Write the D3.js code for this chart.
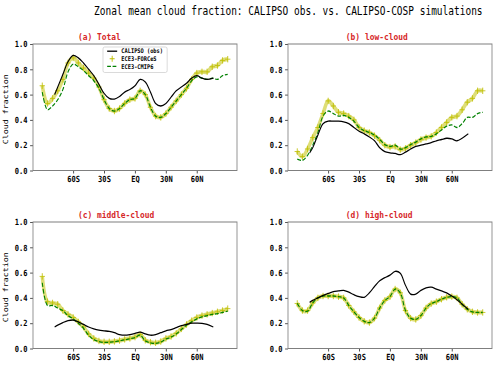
<!DOCTYPE html>
<html>
<head>
<meta charset="utf-8">
<script src="https://cdn.jsdelivr.net/npm/d3@7"></script>
<style>
  body { margin: 0; background: #fff; }
  text { font-family: "DejaVu Sans Mono", monospace; }
</style>
</head>
<body>
<svg id="fig" width="500" height="368" viewBox="0 0 600 368" preserveAspectRatio="none"></svg>
<script>
// latitude grids
const lats = [-90,-85,-80,-75,-70,-65,-60,-55,-50,-45,-40,-35,-30,-25,-20,-15,-10,-5,0,
              5,10,15,20,25,30,35,40,45,50,55,60,65,70,75,80,85,90];
const obsLats = [-78,-75,-70,-65,-60,-55,-50,-45,-40,-35,-30,-25,-20,-15,-10,-5,0,
                 5,10,15,20,25,30,35,40,45,50,55,60,65,70,76];

const tickLats = [-60, -30, 0, 30, 60];
const tickLabels = ['60S', '30S', 'EQ', '30N', '60N'];
const yTicks = [0, 0.2, 0.4, 0.6, 0.8, 1.0];
const seriesNames = ['CALIPSO (obs)', 'ECE3-FORCeS', 'ECE3-CMIP6'];

// (a) total
const totObs = [0.60,0.66,0.76,0.86,0.91,0.89,0.85,0.80,0.75,0.68,0.61,0.57,0.565,0.585,0.62,0.64,0.67,
                0.72,0.70,0.62,0.53,0.51,0.53,0.58,0.63,0.66,0.69,0.73,0.75,0.73,0.72,0.73];
const totForces = [0.67,0.53,0.57,0.63,0.72,0.85,0.89,0.85,0.81,0.77,0.73,0.66,0.56,0.49,0.47,0.49,0.53,0.56,0.57,
                   0.63,0.60,0.50,0.43,0.42,0.45,0.50,0.55,0.60,0.65,0.72,0.77,0.78,0.78,0.82,0.83,0.87,0.88];
const totCmip6 = [0.62,0.48,0.51,0.56,0.64,0.78,0.84,0.82,0.79,0.75,0.71,0.65,0.56,0.49,0.47,0.49,0.53,0.56,0.57,
                  0.63,0.60,0.50,0.43,0.42,0.45,0.50,0.55,0.60,0.65,0.71,0.74,0.73,0.72,0.73,0.72,0.75,0.76];

// (b) low-cloud
const lowObs = [0.14,0.18,0.28,0.37,0.39,0.39,0.39,0.385,0.37,0.34,0.31,0.29,0.265,0.235,0.18,0.15,0.14,
                0.135,0.125,0.145,0.17,0.19,0.20,0.21,0.22,0.235,0.245,0.255,0.25,0.235,0.255,0.29];
const lowForces = [0.15,0.11,0.17,0.26,0.34,0.45,0.55,0.51,0.46,0.45,0.43,0.40,0.34,0.315,0.30,0.275,0.24,0.20,0.185,
                   0.19,0.165,0.175,0.20,0.22,0.245,0.26,0.27,0.30,0.34,0.38,0.42,0.43,0.48,0.54,0.57,0.63,0.63];
const lowCmip6 = [0.09,0.08,0.12,0.20,0.30,0.43,0.47,0.45,0.43,0.435,0.42,0.39,0.34,0.315,0.30,0.28,0.245,0.205,0.19,
                  0.20,0.17,0.18,0.205,0.225,0.25,0.265,0.27,0.29,0.32,0.35,0.36,0.34,0.37,0.42,0.42,0.45,0.46];

// (c) middle-cloud
const midObs = [0.17,0.185,0.205,0.22,0.225,0.21,0.19,0.17,0.155,0.145,0.14,0.135,0.125,0.11,0.105,0.11,0.12,
                0.13,0.115,0.105,0.11,0.125,0.14,0.15,0.165,0.18,0.19,0.20,0.20,0.198,0.19,0.17];
const midForces = [0.57,0.37,0.36,0.35,0.30,0.27,0.245,0.21,0.17,0.115,0.08,0.06,0.053,0.053,0.056,0.063,0.072,0.08,0.09,
                   0.11,0.065,0.05,0.045,0.055,0.08,0.095,0.12,0.155,0.19,0.22,0.245,0.26,0.27,0.28,0.29,0.30,0.315];
const midCmip6 = [0.52,0.34,0.34,0.32,0.30,0.26,0.235,0.20,0.16,0.105,0.07,0.055,0.048,0.05,0.053,0.06,0.068,0.077,0.087,
                  0.105,0.06,0.045,0.04,0.05,0.075,0.09,0.115,0.15,0.185,0.21,0.235,0.25,0.26,0.27,0.275,0.285,0.295];

// (d) high-cloud
const highObs = [0.365,0.38,0.40,0.42,0.435,0.45,0.455,0.46,0.445,0.425,0.41,0.405,0.44,0.49,0.535,0.56,0.58,
                 0.61,0.595,0.50,0.43,0.43,0.46,0.48,0.485,0.47,0.455,0.44,0.415,0.385,0.35,0.31];
const highForces = [0.356,0.30,0.30,0.36,0.40,0.415,0.415,0.415,0.41,0.40,0.34,0.29,0.245,0.215,0.205,0.24,0.32,0.38,0.41,
                    0.47,0.44,0.30,0.24,0.23,0.26,0.32,0.355,0.37,0.39,0.405,0.41,0.40,0.35,0.31,0.29,0.285,0.285];
const highCmip6 = [0.356,0.30,0.295,0.36,0.40,0.415,0.415,0.415,0.41,0.40,0.34,0.29,0.245,0.215,0.205,0.24,0.32,0.38,0.41,
                   0.47,0.44,0.30,0.24,0.23,0.26,0.32,0.355,0.37,0.39,0.405,0.41,0.40,0.35,0.31,0.29,0.285,0.285];

const panels = [
  {title: '(a) Total',        obs: totObs,  forces: totForces,  cmip: totCmip6,  left: 39.6,  top: 44,  ylabel: true,  legend: true,  titleX: 93.6},
  {title: '(b) low-cloud',    obs: lowObs,  forces: lowForces,  cmip: lowCmip6,  left: 345.6, top: 44,  ylabel: false, legend: false, titleX: 415},
  {title: '(c) middle-cloud', obs: midObs,  forces: midForces,  cmip: midCmip6,  left: 39.6,  top: 222, ylabel: true,  legend: false, titleX: 93.6},
  {title: '(d) high-cloud',   obs: highObs, forces: highForces, cmip: highCmip6, left: 345.6, top: 222, ylabel: false, legend: false, titleX: 415}
];

const pw = 244.8, ph = 126.5;
const yellow = '#bfbf00', yellowLight = '#d8d860';
const svg = d3.select('#fig');

svg.append('text')
    .attr('x', 112.8).attr('y', 15)
    .style('font-size', '11.4px')
    .text('Zonal mean cloud fraction: CALIPSO obs. vs. CALIPSO-COSP simulations');

panels.forEach(function(p) {
    let x = d3.scaleLinear().domain([-99, 99]).range([p.left, p.left + pw]);
    let y = d3.scaleLinear().domain([0, 1]).range([p.top + ph, p.top]);
    let g = svg.append('g');

    let line = d3.line()
                 .x(d => x(d[0]))
                 .y(d => y(d[1]))
                 .curve(d3.curveCatmullRom.alpha(0.5));

    let obsPts = obsLats.map((l, i) => [l, p.obs[i]]);
    let forPts = lats.map((l, i) => [l, p.forces[i]]);
    let cmpPts = lats.map((l, i) => [l, p.cmip[i]]);

    // ECE3-FORCeS: yellow plus markers over a soft band
    g.append('path').datum(forPts)
        .attr('d', line).attr('fill', 'none')
        .attr('stroke', yellowLight).attr('stroke-width', 4.2)
        .attr('stroke-opacity', 0.85);
    g.selectAll('.plus').data(forPts).enter()
        .append('path')
        .attr('d', d => `M${x(d[0]) - 3.2},${y(d[1])}h6.4M${x(d[0])},${y(d[1]) - 3.2}v6.4`)
        .attr('stroke', yellow).attr('stroke-width', 1).attr('stroke-opacity', 0.9);

    g.append('path').datum(cmpPts)
        .attr('d', line).attr('fill', 'none')
        .attr('stroke', '#008000').attr('stroke-width', 1.3)
        .attr('stroke-dasharray', '4.5,2');

    g.append('path').datum(obsPts)
        .attr('d', line).attr('fill', 'none')
        .attr('stroke', '#000').attr('stroke-width', 1.3);

    // axes
    let xAxis = d3.axisBottom(x).tickValues(tickLats)
                  .tickFormat((d, i) => tickLabels[i]).tickSize(3).tickPadding(2);
    let yAxis = d3.axisLeft(y).tickValues(yTicks)
                  .tickFormat(d3.format('.1f')).tickSize(3.5).tickPadding(3);

    let xa = g.append('g').attr('transform', `translate(0,${p.top + ph})`).call(xAxis);
    let ya = g.append('g').attr('transform', `translate(${p.left},0)`).call(yAxis);
    [xa, ya].forEach(a => {
        a.select('.domain').remove();
        a.selectAll('line').attr('stroke', '#444');
        a.selectAll('text').style('font-family', '"DejaVu Sans Mono", monospace')
         .style('font-size', '8.5px').style('font-weight', 'bold').attr('fill', '#000');
    });

    g.append('rect')
        .attr('x', p.left).attr('y', p.top).attr('width', pw).attr('height', ph)
        .attr('fill', 'none').attr('stroke', '#7f7f7f').attr('stroke-width', 1);

    g.append('text')
        .attr('x', p.titleX).attr('y', p.top - 4)
        .attr('fill', '#d62728').style('font-size', '9.5px').style('font-weight', 'bold')
        .text(p.title);

    if (p.ylabel) {
        g.append('text')
            .attr('transform', `translate(10,${p.top + ph / 2 + 2}) rotate(-90)`)
            .attr('text-anchor', 'middle')
            .style('font-size', '8.3px')
            .text('Cloud fraction');
    }

    if (p.legend) {
        let lg = g.append('g').attr('transform', 'translate(123.6,47)');
        lg.append('rect').attr('width', 77).attr('height', 25.5).attr('rx', 2)
            .attr('fill', '#fff').attr('fill-opacity', 0.85)
            .attr('stroke', '#ccc').attr('stroke-width', 0.8);
        let rows = [4.2, 11.8, 19.4];
        lg.append('line').attr('x1', 5).attr('x2', 17).attr('y1', rows[0]).attr('y2', rows[0])
            .attr('stroke', '#000').attr('stroke-width', 1.3);
        lg.append('path').attr('d', `M8,${rows[1]}h6M11,${rows[1] - 3}v6`)
            .attr('stroke', yellow).attr('stroke-width', 1.1);
        lg.append('line').attr('x1', 5).attr('x2', 17).attr('y1', rows[2]).attr('y2', rows[2])
            .attr('stroke', '#008000').attr('stroke-width', 1.3).attr('stroke-dasharray', '4.5,2');
        seriesNames.forEach((n, i) => {
            lg.append('text').attr('x', 22).attr('y', rows[i] + 2.2)
                .style('font-size', '6.4px').style('font-weight', 'bold')
                .text(n);
        });
    }
});
</script>
</body>
</html>
